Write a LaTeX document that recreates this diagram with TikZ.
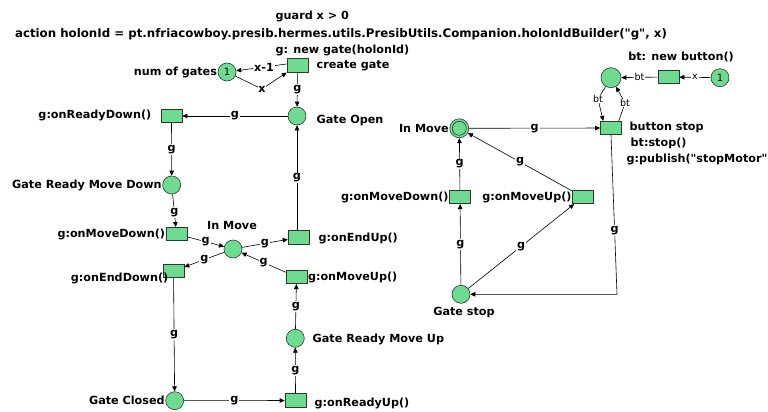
\documentclass[tikz,border=0pt]{standalone}
\usepackage{fontspec}
\setmainfont{DejaVu Sans}[Ligatures=TeXOff]
\usetikzlibrary{arrows.meta}
\definecolor{pn}{RGB}{110,219,145}
\definecolor{pnline}{RGB}{40,60,45}
\tikzset{
  place/.style={circle,draw=pnline,fill=pn,line width=0.6pt,minimum size=18pt,inner sep=0pt,font=\fontsize{10}{11}\selectfont},
  trans/.style={rectangle,draw=pnline,fill=pn,line width=0.6pt,minimum width=21pt,minimum height=13.5pt,inner sep=0pt},
  lbl/.style={font=\bfseries\fontsize{11.2}{13}\selectfont,inner sep=0.5pt},
  arc/.style={draw=black,line width=0.6pt,-{Triangle[length=5pt,width=4.5pt]}},
  el/.style={font=\bfseries\fontsize{11.2}{13}\selectfont,fill=white,inner sep=1pt},
  els/.style={font=\fontsize{9.5}{11}\selectfont,fill=white,inner sep=0.8pt}
}
\begin{document}
\begin{tikzpicture}[x=1pt,y=-1pt]
\useasboundingbox (0,0) rectangle (768,412);
% top texts
\node[lbl,anchor=west] (tg) at (275,16) {guard x > 0};
\node[lbl,font=\bfseries\fontsize{11.8}{13}\selectfont] (ta) at (341,34) {action holonId = pt.nfriacowboy.presib.hermes.utils.PresibUtils.Companion.holonIdBuilder("g", x)};
\node[lbl,anchor=west] (tn) at (275,50) {g: new gate(holonId)};

% left net nodes
\node[place] (Pnum) at (227,72) {1};
\node[trans] (Tcreate) at (297.5,65.5) {};
\node[place] (Popen) at (297,116) {};
\node[trans] (TreadyDown) at (171.5,116) {};
\node[place] (PreadyDown) at (171.7,185) {};
\node[trans] (TmoveDown) at (176.5,234) {};
\node[place] (Pinmove) at (233,249) {};
\node[trans] (TendUp) at (298.5,237.5) {};
\node[trans] (TendDown) at (173.5,271) {};
\node[trans] (TmoveUp) at (296.5,277) {};
\node[place] (PreadyUp) at (295.3,338.3) {};
\node[place] (Pclosed) at (174.7,400.7) {};
\node[trans] (TreadyUp) at (295.5,400.5) {};

% left labels
\node[lbl,anchor=east] at (Pnum.west) {num of gates};
\node[lbl,anchor=west] at (316,66) {create gate};
\node[lbl,anchor=west] at (316,121) {Gate Open};
\node[lbl,anchor=east] at (152,115) {g:onReadyDown()};
\node[lbl,anchor=east] at (PreadyDown.west) {Gate Ready Move Down};
\node[lbl,anchor=east] at (TmoveDown.west) {g:onMoveDown()};
\node[lbl] at (232,225) {In Move};
\node[lbl,anchor=west] at (318,238) {g:onEndUp()};
\node[lbl,anchor=east] at (169,278) {g:onEndDown()};
\node[lbl,anchor=west] at (TmoveUp.east) {g:onMoveUp()};
\node[lbl,anchor=west] at (312,339) {Gate Ready Move Up};
\node[lbl,anchor=east] at (Pclosed.west) {Gate Closed};
\node[lbl,anchor=west] at (314,403) {g:onReadyUp()};

% left arcs
\coordinate (cx) at (262,89);
\draw[arc] ([yshift=1.5pt]Tcreate.west) -- node[els,font=\bfseries\fontsize{11.2}{13}\selectfont,pos=0.45]{x-1} (Pnum);
\draw[line width=0.6pt] (Pnum) -- (cx);
\draw[arc] (cx) -- (Tcreate.south west);
\node[els,font=\bfseries\fontsize{11.2}{13}\selectfont] at (cx) {x};
\draw[arc] (Tcreate) -- node[el]{g} (Popen);
\draw[arc] (Popen) -- node[el]{g} (TreadyDown);
\draw[arc] (TreadyDown) -- node[el]{g} (PreadyDown);
\draw[arc] (PreadyDown) -- node[el,pos=0.55]{g} (TmoveDown);
\draw[arc] (TmoveDown) -- node[el]{g} (Pinmove);
\draw[arc] (Pinmove) -- node[el]{g} (TendUp);
\draw[arc] (Pinmove) -- node[el]{g} (TendDown);
\draw[arc] (TmoveUp) -- node[el]{g} (Pinmove);
\draw[arc] (TendUp.north -| Popen) -- node[el]{g} (Popen);
\draw[arc] (TendDown) -- node[el]{g} (Pclosed);
\draw[arc] (Pclosed) -- node[el]{g} (TreadyUp);
\draw[arc] (TreadyUp) -- node[el]{g} (PreadyUp);
\draw[arc] (PreadyUp) -- node[el]{g} (TmoveUp);

% right net nodes
\node[place,minimum size=20pt] (Pbt) at (611,77.7) {};
\node[trans] (Tnewbt) at (668.5,77) {};
\node[place] (Pone) at (720,77.7) {1};
\node[trans] (Tstop) at (611,128) {};
\node[place,minimum size=19pt] (Pinmove2) at (459.3,128.3) {};
\draw[draw=pnline,line width=0.6pt] (Pinmove2) circle (7pt);
\node[trans] (TmoveDown2) at (460,197) {};
\node[trans] (TmoveUp2) at (583,197) {};
\node[place] (Pgatestop) at (461,294.3) {};

% right labels
\node[lbl] at (681,57) {bt: new button()};
\node[lbl,anchor=east] at (Pinmove2.west) {In Move};
\node[lbl,anchor=west] at (629,127) {button stop};
\node[lbl,anchor=west] at (630,143) {bt:stop()};
\node[lbl,anchor=west] at (626,159) {g:publish("stopMotor"};
\node[lbl,anchor=east] at (TmoveDown2.west) {g:onMoveDown()};
\node[lbl,anchor=east] at (TmoveUp2.west) {g:onMoveUp()};
\node[lbl] at (464,313) {Gate stop};

% right arcs
\draw[arc] (Pone) -- node[els]{x} (Tnewbt);
\draw[arc] (Tnewbt) -- node[els]{bt} (Pbt);
\coordinate (cbl) at (598,99);
\coordinate (cbr) at (625,103);
\draw[line width=0.6pt] (Pbt) -- (cbl);
\draw[arc] (cbl) -- ([xshift=3pt]Tstop.north west);
\node[els] at (cbl) {bt};
\draw[line width=0.6pt] ([xshift=-3pt]Tstop.north east) -- (cbr);
\draw[arc] (cbr) -- (Pbt);
\node[els] at (cbr) {bt};
\draw[arc] (Pinmove2) -- node[el]{g} (Tstop);
\draw[arc] (TmoveDown2) -- node[el]{g} (Pinmove2);
\draw[arc] (TmoveUp2) -- node[el]{g} (Pinmove2);
\draw[arc] (Pgatestop) -- node[el]{g} (TmoveDown2);
\draw[arc] (Pgatestop) -- node[el]{g} (TmoveUp2);
\coordinate (ccorner) at (617,294.3);
\draw[arc] (Tstop.south) -- node[el,pos=0.6]{g} (ccorner) -- (Pgatestop);
\end{tikzpicture}
\end{document}
